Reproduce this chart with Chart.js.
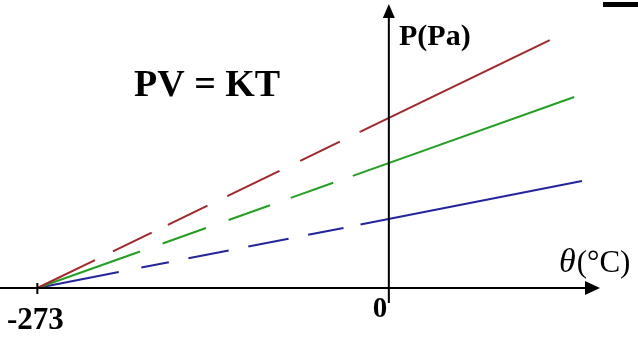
<!DOCTYPE html>
<html>
<head>
<meta charset="utf-8">
<script src="https://cdn.jsdelivr.net/npm/chart.js@4.4.1/dist/chart.umd.min.js"></script>
<style>
  html, body { margin: 0; padding: 0; background: #fff; }
  #wrap { position: relative; width: 638px; height: 338px; }
  #bar { position: absolute; left: 603px; top: 2px; width: 35px; height: 5px; background: #000; }
</style>
</head>
<body>
<div id="wrap">
  <canvas id="gasChart" width="638" height="338"></canvas>
  <div id="bar"></div>
</div>
<script>
// temperature (°C) where every line meets the axis
var absZero = -273;
var seriesNames = ['high', 'mid', 'low'];
var pressureAtZero = [170, 125, 69];     // P at 0 °C
var solidFrom = [-22, -28, -22];         // where the dashed part turns solid
var endTemp = [125, 144, 150];           // last θ value drawn for each line

// axis ranges (no numbers shown on the axes except -273 and 0)
var xMin = -302, xMax = 164;
var yMin = -9, yMax = 281;
var xTickLabels = ['-273', '0'];

// styles
var lineColors = ['#a3262a', '#22a022', '#24249c'];
var dashPatterns = [
    [64, 20, 43, 18, 44, 22, 58, 23, 44, 22],
    [109, 24, 46, 24, 44, 22, 45, 21],
    [83, 23, 28, 20, 41, 20, 41, 20, 36, 18]
];

function pressureAt(i, t) {
    // straight line through (absZero, 0) and (0, pressureAtZero[i])
    return pressureAtZero[i] * (t - absZero) / (0 - absZero);
}

var datasets = [];
seriesNames.forEach(function (name, i) {
    // dashed part: extrapolation down to absolute zero
    datasets.push({
        label: name + ' (extrapolated)',
        data: [{ x: absZero, y: 0 }, { x: solidFrom[i], y: pressureAt(i, solidFrom[i]) }],
        borderColor: lineColors[i],
        borderWidth: 2,
        borderDash: dashPatterns[i],
        pointRadius: 0,
        fill: false
    });
    // solid part
    datasets.push({
        label: name,
        data: [{ x: solidFrom[i], y: pressureAt(i, solidFrom[i]) }, { x: endTemp[i], y: pressureAt(i, endTemp[i]) }],
        borderColor: lineColors[i],
        borderWidth: 2,
        pointRadius: 0,
        fill: false
    });
});

var axesPlugin = {
    id: 'axesPlugin',
    afterDatasetsDraw: function (chart) {
        var ctx = chart.ctx;
        var xs = chart.scales.x, ys = chart.scales.y;
        var x0 = xs.getPixelForValue(0);
        var y0 = ys.getPixelForValue(0);
        var xa = xs.getPixelForValue(absZero);
        var left = 0, right = xs.right;
        var top = ys.top - 3, bottom = ys.bottom + 6;

        ctx.save();
        ctx.strokeStyle = '#000';
        ctx.fillStyle = '#000';
        ctx.lineWidth = 2;

        // x axis with arrow
        ctx.beginPath();
        ctx.moveTo(left, y0);
        ctx.lineTo(right - 10, y0);
        ctx.stroke();
        ctx.beginPath();
        ctx.moveTo(right, y0);
        ctx.lineTo(right - 15, y0 - 7);
        ctx.lineTo(right - 15, y0 + 7);
        ctx.closePath();
        ctx.fill();

        // y axis with arrow
        ctx.beginPath();
        ctx.moveTo(x0, bottom);
        ctx.lineTo(x0, top + 10);
        ctx.stroke();
        ctx.beginPath();
        ctx.moveTo(x0, top);
        ctx.lineTo(x0 - 6, top + 14);
        ctx.lineTo(x0 + 6, top + 14);
        ctx.closePath();
        ctx.fill();

        // tick at absolute zero
        ctx.beginPath();
        ctx.moveTo(xa, y0 - 5);
        ctx.lineTo(xa, y0 + 6);
        ctx.stroke();

        // labels
        ctx.textBaseline = 'alphabetic';
        ctx.textAlign = 'left';
        ctx.font = 'bold 31px "Liberation Serif", "DejaVu Serif", serif';
        ctx.fillText(xTickLabels[0], 7, 329);
        ctx.font = 'bold 29px "Liberation Serif", "DejaVu Serif", serif';
        ctx.fillText(xTickLabels[1], x0 - 16, 317);

        ctx.font = 'bold 30px "Liberation Serif", "DejaVu Serif", serif';
        ctx.fillText('P(Pa)', 399, 45);

        ctx.font = 'bold 38px "Liberation Serif", "DejaVu Serif", serif';
        ctx.fillText('PV = KT', 134, 96);

        ctx.font = 'italic 34px "Liberation Serif", "DejaVu Serif", serif';
        ctx.fillText('\u03B8', 559, 272);
        var w = ctx.measureText('\u03B8').width;
        ctx.font = '31px "Liberation Serif", "DejaVu Serif", serif';
        ctx.fillText('(\u00B0C)', 559 + w + 1, 272);

        ctx.restore();
    }
};

var ctx = document.getElementById('gasChart').getContext('2d');
var myChart = new Chart(ctx, {
    type: 'line',
    data: { datasets: datasets },
    options: {
        responsive: false,
        animation: false,
        layout: { padding: { left: 0, top: 7, right: 38, bottom: 41 } },
        plugins: {
            legend: { display: false },
            tooltip: { enabled: false }
        },
        scales: {
            x: { type: 'linear', min: xMin, max: xMax, display: false },
            y: { type: 'linear', min: yMin, max: yMax, display: false }
        }
    },
    plugins: [axesPlugin]
});
</script>
</body>
</html>
